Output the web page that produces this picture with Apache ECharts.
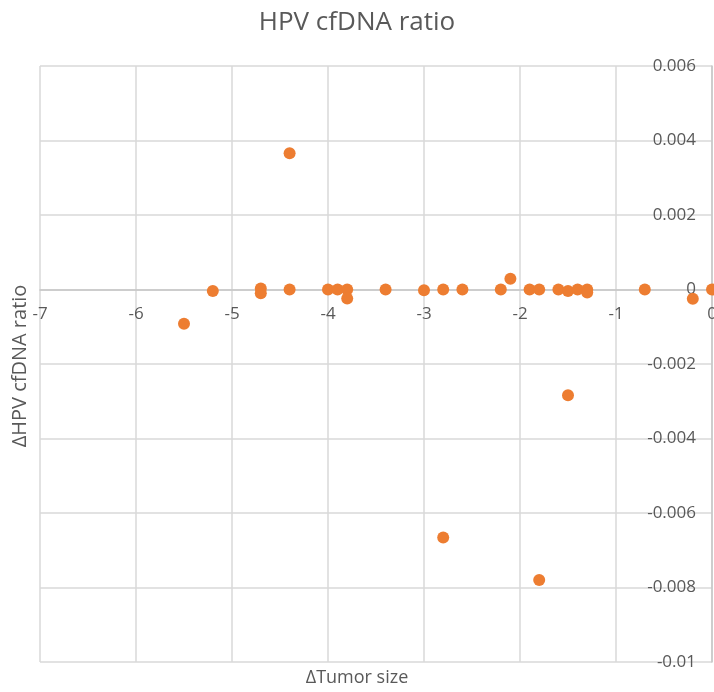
<!DOCTYPE html>
<html>
<head>
<meta charset="utf-8">
<title>HPV cfDNA ratio</title>
<script src="https://cdn.jsdelivr.net/npm/echarts@6/dist/echarts.min.js"></script>
<style>
  html, body { margin: 0; padding: 0; background: #fff; }
  #chart { width: 714px; height: 692px; }
</style>
</head>
<body>
<div id="chart"></div>
<script>
// Δ tumor size (x) and Δ HPV cfDNA ratio (y), one entry per patient
const tumorDelta = [-5.5, -5.2, -4.7, -4.7, -4.4, -4.4, -4.0, -3.9, -3.8, -3.8,
    -3.4, -3.0, -2.8, -2.8, -2.6, -2.2, -2.1, -1.9, -1.8, -1.8,
    -1.6, -1.5, -1.5, -1.4, -1.3, -1.3, -0.7, -0.2, 0];
const cfdnaDelta = [-0.00092, -0.00004, 0.00003, -0.0001, 0.00366, 0, 0, 0, 0, -0.00024,
    0, -0.00002, 0, -0.00666, 0, 0, 0.00029, 0, 0, -0.0078,
    0, -0.00004, -0.00284, 0, 0, -0.00008, 0, -0.00025, 0];

const xTicks = { min: -7, max: 0, step: 1 };
const yTicks = { min: -0.01, max: 0.006, step: 0.002 };

const textColor = '#595959';
const gridColor = '#d9d9d9';
const axisColor = '#c6c6c6';
const font = '"Open Sans", "Noto Sans", sans-serif';

// plot box (Excel puts the horizontal axis where y = 0)
const gridTop = 66, gridBottom = 30;
const plotH = 692 - gridTop - gridBottom;
const zeroShift = -plotH * (0 - yTicks.min) / (yTicks.max - yTicks.min);

const chart = echarts.init(document.getElementById('chart'));

chart.setOption({
    backgroundColor: '#fff',
    animation: false,
    textStyle: { fontFamily: font },
    title: {
        text: 'HPV cfDNA ratio',
        left: 'center',
        top: 5,
        textStyle: { color: textColor, fontSize: 26, fontWeight: 'normal', fontFamily: font }
    },
    grid: {
        left: 40, right: 2, top: gridTop, bottom: gridBottom,
        containLabel: false, outerBoundsMode: 'none'
    },
    xAxis: {
        type: 'value',
        min: xTicks.min,
        max: xTicks.max,
        interval: xTicks.step,
        position: 'bottom',
        offset: zeroShift,
        axisLine: { onZero: false, lineStyle: { color: axisColor, width: 1.5 } },
        axisTick: { show: false },
        axisLabel: { color: textColor, fontSize: 17, margin: 16, fontFamily: font },
        splitLine: { show: true, lineStyle: { color: gridColor, width: 1.5 } }
    },
    yAxis: {
        type: 'value',
        min: yTicks.min,
        max: yTicks.max,
        interval: yTicks.step,
        position: 'right',
        axisLine: { show: true, onZero: false, lineStyle: { color: axisColor, width: 1.5 } },
        axisTick: { show: false },
        axisLabel: {
            inside: true,
            color: textColor,
            fontSize: 17,
            margin: 16,
            fontFamily: font,
            formatter: v => String(+v.toFixed(3))
        },
        splitLine: { show: true, lineStyle: { color: gridColor, width: 1.5 } }
    },
    graphic: [
        {
            type: 'text',
            left: 'center',
            top: 669,
            style: { text: '\u0394Tumor size', fill: textColor, font: '18px ' + font }
        },
        {
            type: 'text',
            x: 10,
            y: 366,
            rotation: Math.PI / 2,
            style: {
                text: '\u0394HPV cfDNA ratio',
                fill: textColor,
                font: '20px ' + font,
                align: 'center',
                verticalAlign: 'top'
            }
        }
    ],
    series: [{
        type: 'scatter',
        symbolSize: 12,
        itemStyle: { color: '#ed7d31', opacity: 1 },
        data: tumorDelta.map((x, i) => [x, cfdnaDelta[i]])
    }]
});
</script>
</body>
</html>
